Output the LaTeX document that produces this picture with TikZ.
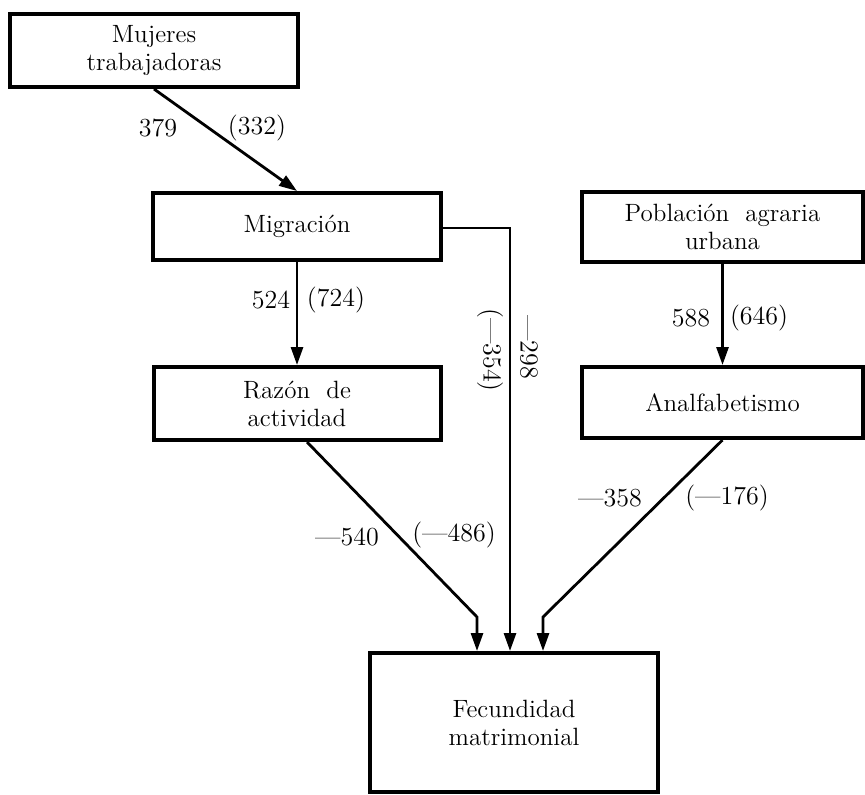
\documentclass[tikz,border=0pt]{standalone}
\usepackage{tikz}
\usetikzlibrary{arrows.meta}

\begin{document}
\begin{tikzpicture}[x=0.5pt,y=-0.5pt,
  caja/.style={draw,line width=2pt,align=center,inner sep=0pt,font=\fontsize{12.5}{14}\selectfont},
  flecha/.style={line width=1.4pt,-{Triangle[length=9pt,width=6pt]}},
  coef/.style={inner sep=1pt,font=\fontsize{13}{14}\selectfont}]
\useasboundingbox (0,0) rectangle (865,794);
% cajas (centro y medidas en pixeles de la figura)
\node[caja,minimum width=144pt,minimum height=36.5pt] (mujeres) at (154,50.5) {Mujeres\\trabajadoras};
\node[caja,minimum width=144pt,minimum height=33.5pt] (migracion) at (297,226.5) {Migración};
\node[caja,minimum width=140.5pt,minimum height=35pt] (poblacion) at (722.5,227) {Población\ \ agraria\\urbana};
\node[caja,minimum width=143.5pt,minimum height=36.5pt] (razon) at (297,403.5) {Razón\ \ de\\actividad};
\node[caja,minimum width=140.5pt,minimum height=35.5pt] (analfa) at (722.5,402.5) {Analfabetismo};
\node[caja,minimum width=144pt,minimum height=69.5pt] (fecundidad) at (514,722.5) {Fecundidad\\matrimonial};

% quiebres de las flechas hacia fecundidad
\coordinate (kmig) at (510,228);
\coordinate (kraz) at (477,617);
\coordinate (kana) at (543,617);

\draw[flecha] (mujeres.south) -- (migracion.north);
\draw[flecha] (migracion.south) -- (razon.north);
\draw[flecha] (poblacion.south) -- (analfa.north);
\draw[flecha] (migracion.east |- kmig) -- (kmig) -- (kmig |- fecundidad.north);
\draw[flecha] ([xshift=5pt]razon.south) -- (kraz) -- (kraz |- fecundidad.north);
\draw[flecha] (analfa.south) -- (kana) -- (kana |- fecundidad.north);

% coeficientes (entre parentesis el segundo valor)
\node[coef] (c379) at (158,128) {379};
\node[coef] (c332) at (257,128) {(332)};
\node[coef] (c524) at (271,300) {524};
\node[coef] (c724) at (336,300) {(724)};
\node[coef] (c588) at (691,318) {588};
\node[coef] (c646) at (759,318) {(646)};
\node[coef,rotate=-90] (c354) at (490,350) {(---354)};
\node[coef,rotate=-90] (c298) at (529,347) {---298};
\node[coef] (c540) at (347,537) {---540};
\node[coef] (c486) at (454,535) {(---486)};
\node[coef] (c358) at (610,498) {---358};
\node[coef] (c176) at (727,498) {(---176)};
\end{tikzpicture}
\end{document}
